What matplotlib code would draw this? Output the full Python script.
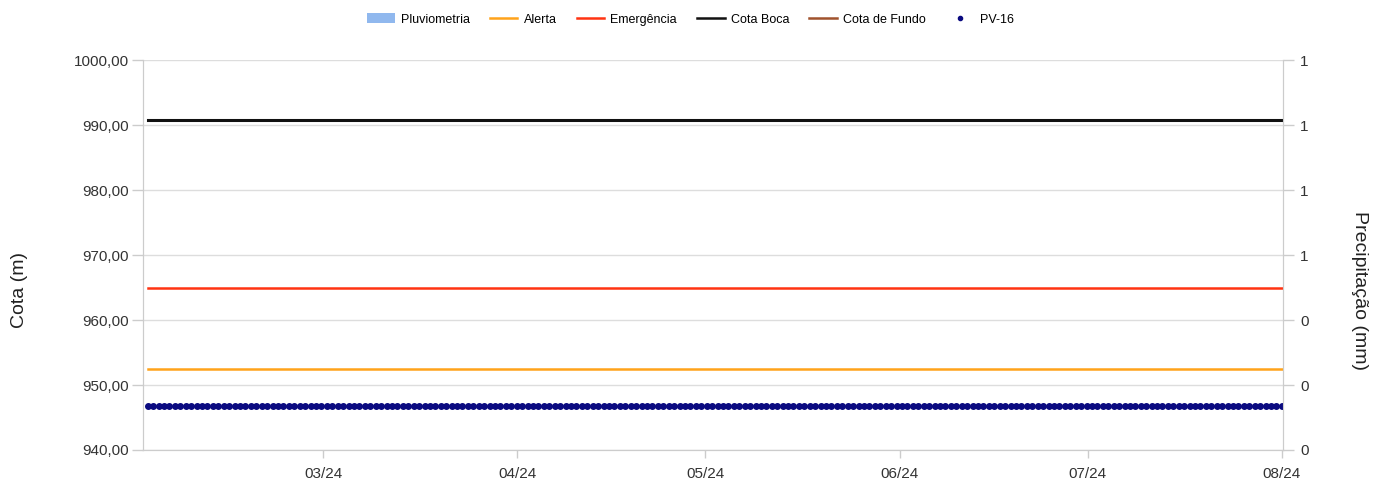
import numpy as np
import pandas as pd
import matplotlib
matplotlib.use("Agg")
import matplotlib.pyplot as plt
import matplotlib.dates as mdates
from matplotlib.ticker import FuncFormatter, FixedLocator
from matplotlib.patches import Patch
from matplotlib.lines import Line2D

plt.rcParams['font.family'] = ['Liberation Sans', 'DejaVu Sans']

# dados
inicio = "2024-02-02"
fim = "2024-08-01"
n_leituras = 210
pv16 = [946.8] * n_leituras
alerta = 952.5
emergencia = 965.0
cota_boca = 990.8
cota_fundo = 930.0   # fora da escala visivel
pluviometria = []    # sem chuva no periodo

datas = pd.date_range(inicio, fim, periods=n_leituras)

fig = plt.figure(figsize=(13.89, 4.82), dpi=100)
ax = fig.add_axes([0.103, 0.0664, 0.821, 0.809])
ax2 = ax.twinx()

cinza = "#cccccc"
ax.set_ylim(940, 1000)
ax.set_yticks(np.arange(940, 1001, 10))
ax.yaxis.set_major_formatter(FuncFormatter(lambda v, p: "{:.2f}".format(v).replace(".", ",")))
ax.grid(axis="y", color="#dddddd", lw=1)
ax.set_axisbelow(True)

x0, x1 = datas[0], datas[-1]
ax.plot([x0, x1], [alerta, alerta], color="#ffa31a", lw=1.8, zorder=3)
ax.plot([x0, x1], [emergencia, emergencia], color="#ff3311", lw=1.8, zorder=3)
ax.plot([x0, x1], [cota_boca, cota_boca], color="#111111", lw=2.2, zorder=3)
ax.plot([x0, x1], [cota_fundo, cota_fundo], color="#a0522d", lw=1.8, zorder=3)
ax.plot(datas, pv16, ls="none", marker="o", ms=4.0, color="#0a0a80", zorder=4)

ax.set_xlim(pd.Timestamp("2024-02-01 06:00"), pd.Timestamp("2024-08-01 06:00"))
ax.xaxis.set_major_locator(mdates.MonthLocator(bymonth=[3, 4, 5, 6, 7, 8]))
ax.xaxis.set_major_formatter(mdates.DateFormatter("%m/%y"))

ax2.set_ylim(0, 1.2)
ax2.yaxis.set_major_locator(FixedLocator(np.arange(0, 1.21, 0.2)))
ax2.yaxis.set_major_formatter(FuncFormatter(lambda v, p: "{:.0f}".format(v + 1e-9)))

for a in (ax, ax2):
    for s in a.spines.values():
        s.set_color(cinza)
    a.spines["top"].set_visible(False)
    a.tick_params(colors="#333333", labelsize=11, color=cinza, length=8, width=1)
ax.tick_params(axis="x", length=6, pad=6)
ax.tick_params(axis="y", pad=2)
ax2.tick_params(axis="y", pad=4)

ax.set_ylabel("Cota (m)", fontsize=14, color="#222222")
ax.yaxis.set_label_coords(-0.101, 0.41)
ax2.set_ylabel("Precipitação (mm)", fontsize=14, color="#222222", rotation=270, va="center")
ax2.yaxis.set_label_coords(1.067, 0.41)

handles = [
    Patch(facecolor="#90b8ee", edgecolor="none"),
    Line2D([], [], color="#ffa31a", lw=1.8),
    Line2D([], [], color="#ff3311", lw=1.8),
    Line2D([], [], color="#111111", lw=1.8),
    Line2D([], [], color="#a0522d", lw=1.8),
    Line2D([], [], ls="none", marker="o", ms=3, color="#0a0a80"),
]
labels = ["Pluviometria", "Alerta", "Emergência", "Cota Boca", "Cota de Fundo", "PV-16"]
fig.legend(handles, labels, loc="center", bbox_to_anchor=(0.497, 0.96), ncol=6, frameon=False,
           fontsize=9, handlelength=2.2, handleheight=0.9, columnspacing=1.6, handletextpad=0.5)

fig.savefig("out.png", dpi=100, facecolor="white")
